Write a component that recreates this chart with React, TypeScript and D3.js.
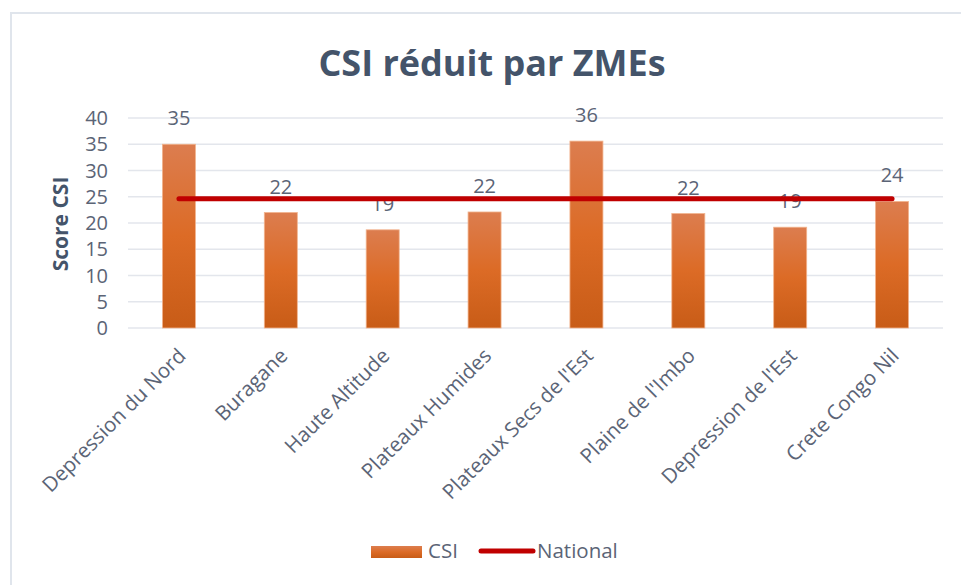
import React from 'react'
import * as d3 from 'd3'

const CATEGORIES = [
  'Depression du Nord',
  'Buragane',
  'Haute Altitude',
  'Plateaux Humides',
  "Plateaux Secs de l'Est",
  "Plaine de l'Imbo",
  "Depression de l'Est",
  'Crete Congo Nil',
]
const CSI_VALUES = [35.0, 22.0, 18.7, 22.1, 35.6, 21.8, 19.2, 24.1]
const CSI_LABELS = ['35', '22', '19', '22', '36', '22', '19', '24']
const NATIONAL = [24.6, 24.6, 24.6, 24.6, 24.6, 24.6, 24.6, 24.6]
const Y_TICKS = [0, 5, 10, 15, 20, 25, 30, 35, 40]

const W = 961
const H = 585
const TEXT = '#44546A'
const LABEL = '#5b6476'
const GRID = '#e3e6ec'
const FONT = "'Open Sans', 'Noto Sans', sans-serif"

const App = () => {
  const margin = { left: 128, right: 18, top: 118, bottom: 257 }
  const plotW = W - margin.left - margin.right
  const plotH = H - margin.top - margin.bottom

  const x = d3.scaleBand<string>()
    .domain(CATEGORIES)
    .range([0, plotW])
    .paddingInner(0.676)
    .paddingOuter(0.338)

  const y = d3.scaleLinear().domain([0, 40]).range([plotH, 0])

  const cx = (c: string) => (x(c) ?? 0) + x.bandwidth() / 2

  const line = d3.line<number>()
    .x((_, i) => cx(CATEGORIES[i]))
    .y(d => y(d))

  return (
    <svg width={W} height={H} style={{ position: 'absolute', left: 0, top: 0, background: '#fff' }}>
      <defs>
        <linearGradient id="barGrad" x1="0" y1="0" x2="0" y2="1">
          <stop offset="0%" stopColor="#dc7d4f" />
          <stop offset="50%" stopColor="#dc6b26" />
          <stop offset="100%" stopColor="#c85c17" />
        </linearGradient>
      </defs>
      <rect x={11} y={13} width={W + 20} height={H + 20} fill="#fff" stroke="#e0e5ec" strokeWidth={2} />

      <text
        x={492}
        y={76}
        textAnchor="middle"
        fontFamily={FONT}
        fontWeight="bold"
        fontSize={36}
        fill={TEXT}
      >
        CSI réduit par ZMEs
      </text>

      <g transform={`translate(${margin.left},${margin.top})`}>
        {Y_TICKS.map(t => (
          <g key={t} transform={`translate(0,${y(t)})`}>
            <line x1={0} x2={plotW} stroke={GRID} strokeWidth={1.5} />
            <text
              x={-20}
              dy="0.35em"
              textAnchor="end"
              fontFamily={FONT}
              fontSize={20}
              fill={LABEL}
            >
              {t}
            </text>
          </g>
        ))}

        {CATEGORIES.map((c, i) => (
          <g key={c}>
            <rect
              x={x(c)}
              y={y(CSI_VALUES[i])}
              width={x.bandwidth()}
              height={plotH - y(CSI_VALUES[i])}
              fill="url(#barGrad)"
              stroke="#f2b48e"
              strokeWidth={0.8}
            />
            <text
              x={cx(c)}
              y={y(CSI_VALUES[i]) - 19}
              textAnchor="middle"
              fontFamily={FONT}
              fontSize={20}
              fill={LABEL}
            >
              {CSI_LABELS[i]}
            </text>
            <text
              transform={`translate(${cx(c) + 3},${plotH + 24}) rotate(-45)`}
              textAnchor="end"
              dy="0.35em"
              fontFamily={FONT}
              fontSize={20.5}
              fill={LABEL}
            >
              {c}
            </text>
          </g>
        ))}

        <path
          d={line(NATIONAL) ?? ''}
          fill="none"
          stroke="#c00000"
          strokeWidth={5}
          strokeLinecap="round"
        />
      </g>

      <text
        transform={`translate(68,${margin.top + plotH / 2 + 1}) rotate(-90)`}
        textAnchor="middle"
        fontFamily={FONT}
        fontWeight="bold"
        fontSize={21}
        fill={TEXT}
      >
        Score CSI
      </text>

      <g fontFamily={FONT} fontSize={20.5} fill={LABEL}>
        <rect x={371} y={546} width={51} height={12} fill="url(#barGrad)" />
        <text x={428} y={558}>CSI</text>
        <line x1={481} x2={533} y1={551} y2={551} stroke="#c00000" strokeWidth={5} strokeLinecap="round" />
        <text x={537} y={558}>National</text>
      </g>
    </svg>
  )
}

export default App
